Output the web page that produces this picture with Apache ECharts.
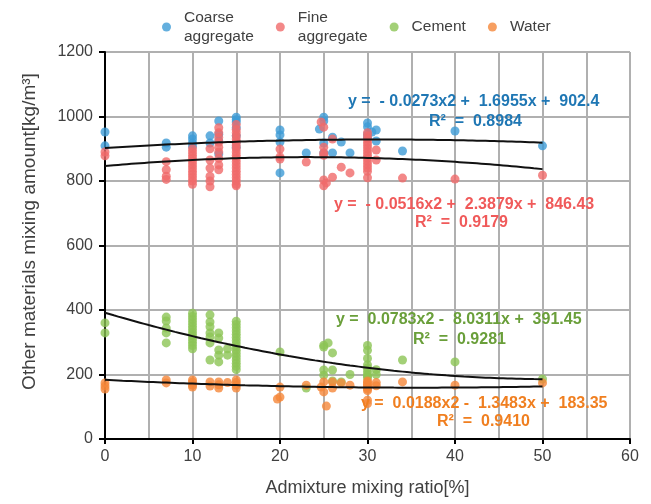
<!DOCTYPE html>
<html><head><meta charset="utf-8">
<script src="https://cdn.jsdelivr.net/npm/echarts@6/dist/echarts.min.js"></script>
<style>html,body{margin:0;padding:0;background:#fff}#c{width:651px;height:504px}</style>
</head><body><div id="c"></div>
<script>
const seriesNames = ['Coarse\naggregate', 'Fine\naggregate', 'Cement', 'Water'];
const coarsePoints = [[0,952],[0,909],[7,918],[7,905],[10,940],[10,930],[10,918],[10,908],[12,940],[12,918],
 [13,986],[13,924],[13,884],[13,945],[15,998],[15,990],[15,983],[15,965],[15,940],[15,920],[15,905],
 [20,958],[20,943],[20,921],[20,825],[23,887],[25,998],[25,986],[24.5,961],[25,918],[25,887],
 [26,936],[26,887],[27,921],[28,887],[30,980],[30,968],[30.5,952],[31,958],[31,924],[30,935],[30,945],
 [34,893],[40,955],[50,909]];
const finePoints = [[0,890],[0,878],[7,860],[7,835],[7,815],[7,805],
 [10,900],[10,890],[10,880],[10,870],[10,860],[10,850],[10,840],[10,830],[10,820],[10,810],[10,800],[10,790],
 [12,900],[12,865],[12,840],[12,815],[12,800],[12,782],
 [13,965],[13,950],[13,935],[13,920],[13,905],[13,890],[13,870],[13,850],[13,835],
 [15,975],[15,960],[15,950],[15,940],[15,930],[15,920],[15,910],[15,900],[15,890],[15,880],[15,870],[15,860],[15,850],[15,840],[15,830],[15,820],[15,810],[15,800],[15,790],[15,785],
 [20,899],[20,875],[20,868],[23,859],[24.7,983],[25,967],[25,905],[25,887],[25,880],[25,803],[25,785],[25.3,794],
 [26,930],[26,812],[27,843],[28,825],
 [30,950],[30,940],[30,930],[30,920],[30,910],[30,900],[30,890],[30,880],[30,870],[30,860],[30,850],[30,840],[30,830],[30,810],[31,896],[31,865],
 [34,809],[40,806],[50,818]];
const cementPoints = [[0,360],[0,329],[7,378],[7,366],[7,344],[7,329],[7,298],
 [10,390],[10,380],[10,370],[10,360],[10,350],[10,340],[10,330],[10,320],[10,310],[10,300],[10,290],[10,280],
 [12,385],[12,363],[12,348],[12,329],[12,316],[12,298],[12,245],
 [13,329],[13,313],[13,276],[13,260],[13,239],[14,260],[14,280],
 [15,365],[15,355],[15,345],[15,335],[15,325],[15,315],[15,305],[15,295],[15,285],[15,275],[15,265],[15,255],[15,245],[15,235],[15,225],[15,215],
 [20,270],[23,158],[25,291],[25,285],[25.5,298],[25,214],[25,198],[26,267],[26,214],[26,180],[27,177],[28,200],
 [30,290],[30,275],[30,250],[30,230],[30,220],[30,210],[30,200],[30,195],[30,190],[31,215],[31,200],
 [34,245],[40,239],[50,186]];
const waterPoints = [[0,174],[0,164],[0,155],[7,183],[7,174],[10,183],[10,176],[10,167],[10,161],
 [12,177],[12,164],[13,177],[13,168],[13,158],[14,175],[15,183],[15,175],[15,167],[15,158],
 [20,161],[20,130],[19.7,124],[23,167],[25,177],[24.7,161],[25,146],[25.3,102],[26,177],[26,158],
 [27,174],[28,167],[30,180],[30,175],[30,170],[30,165],[30,160],[30,155],[30,150],[30,120],[30,110],[31,175],[31,165],
 [34,177],[40,167],[50,174]];
// fitted quadratic trend coefficients [a, b, c] (y = a x^2 + b x + c), as printed on the chart
const coarseFit = [-0.0273, 1.6955, 902.4];
const fineFit = [-0.0516, 2.3879, 846.43];
const cementFit = [0.0783, -8.0311, 391.45];
const waterFit = [0.0188, -1.3483, 183.35];
const fitRange = [0, 50];
const eqTexts = [
 ['y =  - 0.0273x2 +  1.6955x +  902.4', 'R²  =  0.8984'],
 ['y =  - 0.0516x2 +  2.3879x +  846.43', 'R²  =  0.9179'],
 ['y =  0.0783x2 -  8.0311x +  391.45', 'R²  =  0.9281'],
 ['y =  0.0188x2 -  1.3483x +  183.35', 'R²  =  0.9410']
];
const xTicks = [0,10,20,30,40,50,60];
const yTicks = [0,200,400,600,800,1000,1200];

const markerColors = ['#3d9bd6', '#f06a6a', '#8cc455', '#f5873a'];
const textColors = ['#1f77b4', '#f05a5a', '#6a9f3a', '#f07f20'];
const font = 'Liberation Sans, Arial, sans-serif';

function curve(f){
  const pts=[];
  for(let x=fitRange[0]; x<=fitRange[1]; x+=1){ pts.push([x, f[0]*x*x+f[1]*x+f[2]]); }
  return pts;
}
const pointSets=[coarsePoints,finePoints,cementPoints,waterPoints];
const fits=[coarseFit,fineFit,cementFit,waterFit];

const series=[];
pointSets.forEach((p,i)=>{
  series.push({name:seriesNames[i], type:'scatter', data:p, symbolSize:9,
    itemStyle:{color:markerColors[i], opacity:0.8}, z:2});
});
fits.forEach((f,i)=>{
  series.push({name:'fit'+i, type:'line', data:curve(f), showSymbol:false, smooth:true,
    lineStyle:{color:'#111', width:2}, z:5, silent:true});
});

const eqPos = [[348,94,429,114],[334,197,415,215],[336,312,413,332],[361,396,437,414]];
const graphic=[];
eqTexts.forEach((t,i)=>{
  graphic.push({type:'text', left:eqPos[i][0], top:eqPos[i][1], z:10,
    style:{text:t[0], fill:textColors[i], font:'bold 16px '+font}});
  graphic.push({type:'text', left:eqPos[i][2], top:eqPos[i][3], z:10,
    style:{text:t[1], fill:textColors[i], font:'bold 16px '+font}});
});

const chart=echarts.init(document.getElementById('c'),null,{renderer:'canvas'});
chart.setOption({
  animation:false,
  backgroundColor:'#fff',
  grid:{left:105,right:21,top:52,bottom:65},
  legend:{data:seriesNames, top:3, left:157, itemGap:22, itemWidth:9, itemHeight:9,
    icon:'circle', textStyle:{fontSize:15.5, fontFamily:font, color:'#404040', lineHeight:19, padding:[0,0,0,8]}},
  xAxis:{type:'value', min:0, max:60, interval:10,
    name:'Admixture mixing ratio[%]', nameLocation:'middle', nameGap:40,
    nameTextStyle:{fontSize:18, fontFamily:font, color:'#404040'},
    axisLine:{onZero:false, lineStyle:{color:'#000', width:2}},
    axisTick:{show:true, length:5, lineStyle:{color:'#000', width:2}},
    axisLabel:{fontSize:16, fontFamily:font, color:'#404040', margin:10,
      formatter:v=>xTicks.includes(v)?String(v):''},
    splitLine:{show:true, lineStyle:{color:'#b0b0b0', width:2}},
    minorTick:{show:false, splitNumber:2},
    minorSplitLine:{show:true, lineStyle:{color:'#b0b0b0', width:2}}
  },
  yAxis:{type:'value', min:0, max:1200, interval:200,
    name:'Other materials mixing amount[kg/m³]', nameLocation:'middle', nameGap:66,
    nameTextStyle:{fontSize:19, fontFamily:font, color:'#404040', padding:[0,0,0,28]},
    axisLine:{show:true, lineStyle:{color:'#000', width:2}},
    axisTick:{show:true, length:6, lineStyle:{color:'#000', width:2}},
    axisLabel:{fontSize:16, fontFamily:font, color:'#404040', margin:12,
      formatter:v=>yTicks.includes(v)?String(v):''},
    splitLine:{show:true, lineStyle:{color:'#b0b0b0', width:2}}
  },
  series:series,
  graphic:graphic
});
</script></body></html>
